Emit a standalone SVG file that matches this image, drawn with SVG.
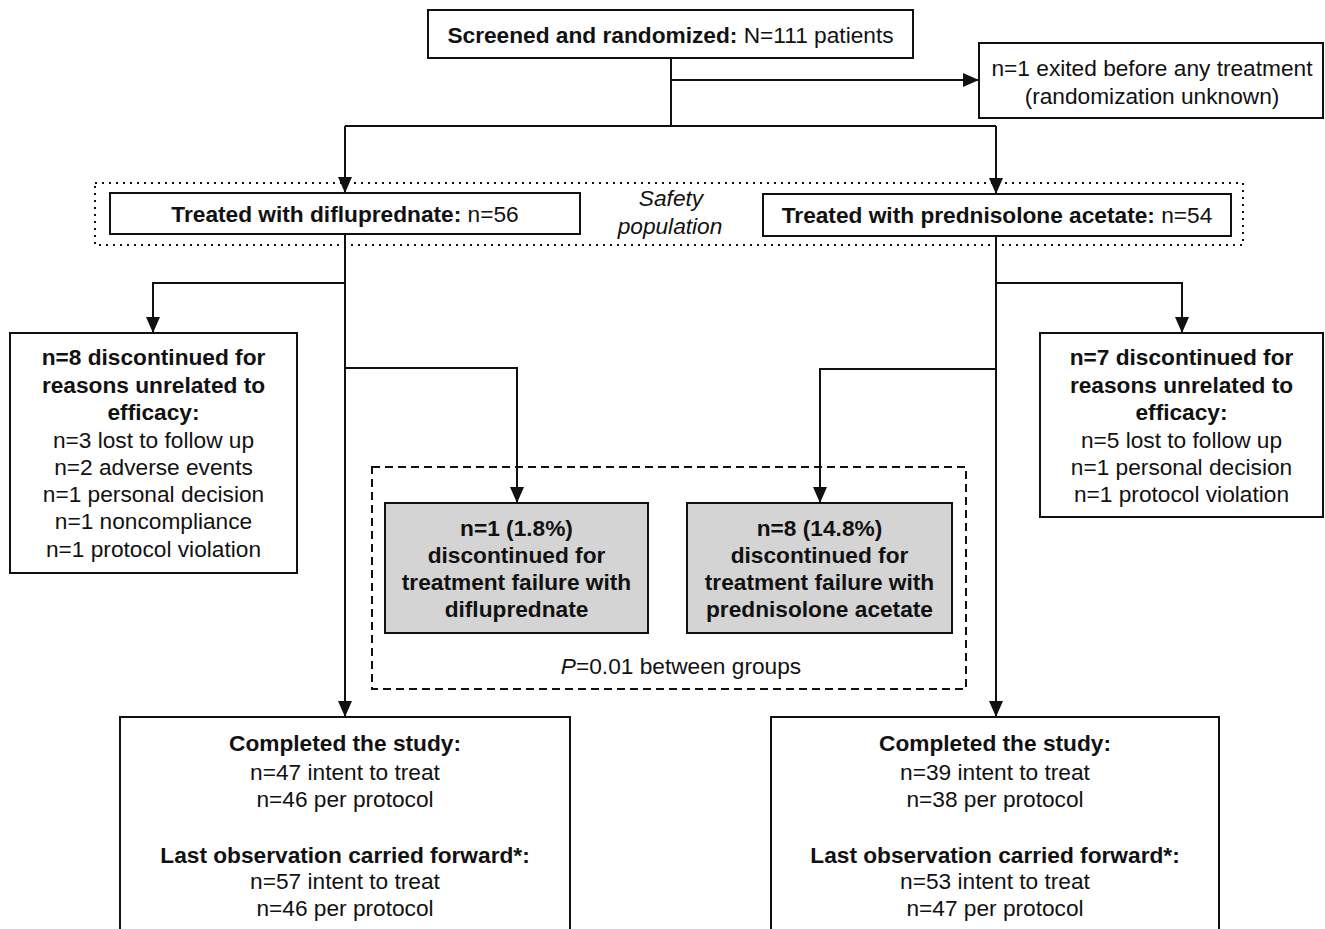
<svg xmlns="http://www.w3.org/2000/svg" width="1325" height="929" viewBox="0 0 1325 929">
<style>
text{font-family:"Liberation Sans",Arial,sans-serif;font-size:22.7px;fill:#111;text-anchor:middle}
.b{font-weight:bold}
.i{font-style:italic}
.box{fill:#fff;stroke:#111;stroke-width:2}
.gray{fill:#d4d4d4;stroke:#111;stroke-width:2}
.dot{fill:none;stroke:#111;stroke-width:2;stroke-dasharray:2 5}
.dash{fill:none;stroke:#111;stroke-width:2;stroke-dasharray:8 5}
.ln{fill:none;stroke:#111;stroke-width:2}
.ar{fill:none;stroke:#111;stroke-width:2;marker-end:url(#ah)}
</style>
<defs>
<marker id="ah" markerUnits="userSpaceOnUse" markerWidth="16" markerHeight="14" viewBox="0 0 16 14" refX="16" refY="7" orient="auto">
<path d="M0,0 L16,7 L0,14 z" fill="#111"/>
</marker>
</defs>
<rect width="1325" height="929" fill="#fff"/>

<g id="safety-population">
<rect class="dot" x="95" y="183" width="1148" height="62"/>
<text class="i" x="671" y="206">Safety</text>
<text class="i" x="670" y="234">population</text>
</g>

<g id="failure-group">
<rect class="dash" x="372" y="467" width="594" height="222"/>
<text x="681" y="674"><tspan class="i">P</tspan>=0.01 between groups</text>
</g>

<g id="connectors">
<path class="ln" d="M671,58 V126"/>
<path class="ar" d="M671,80 H979"/>
<path class="ln" d="M345,126 H996"/>
<path class="ar" d="M345,126 V193"/>
<path class="ar" d="M996,126 V194"/>
<path class="ar" d="M345,234 V717"/>
<path class="ar" d="M345,283 H153 V333"/>
<path class="ar" d="M345,368 H517 V503"/>
<path class="ar" d="M996,236 V717"/>
<path class="ar" d="M996,283 H1182 V333"/>
<path class="ar" d="M996,369 H820 V503"/>
</g>

<g id="screened">
<rect class="box" x="428" y="10" width="485" height="48"/>
<text x="670.5" y="43"><tspan class="b">Screened and randomized:</tspan> N=111 patients</text>
</g>

<g id="exited">
<rect class="box" x="979" y="43" width="344" height="75"/>
<text x="1152" y="76">n=1 exited before any treatment</text>
<text x="1152" y="104">(randomization unknown)</text>
</g>

<g id="treated-difluprednate">
<rect class="box" x="110" y="193" width="470" height="41"/>
<text x="345" y="222"><tspan class="b">Treated with difluprednate:</tspan> n=56</text>
</g>

<g id="treated-prednisolone">
<rect class="box" x="763" y="194" width="468" height="42"/>
<text x="997" y="223"><tspan class="b">Treated with prednisolone acetate:</tspan> n=54</text>
</g>

<g id="disc-left">
<rect class="box" x="10" y="333" width="287" height="240"/>
<text class="b" x="153.5" y="365">n=8 discontinued for</text>
<text class="b" x="153.5" y="393">reasons unrelated to</text>
<text class="b" x="153.5" y="420">efficacy:</text>
<text x="153.5" y="448">n=3 lost to follow up</text>
<text x="153.5" y="475">n=2 adverse events</text>
<text x="153.5" y="502">n=1 personal decision</text>
<text x="153.5" y="529">n=1 noncompliance</text>
<text x="153.5" y="557">n=1 protocol violation</text>
</g>

<g id="disc-right">
<rect class="box" x="1040" y="333" width="283" height="184"/>
<text class="b" x="1181.5" y="365">n=7 discontinued for</text>
<text class="b" x="1181.5" y="393">reasons unrelated to</text>
<text class="b" x="1181.5" y="420">efficacy:</text>
<text x="1181.5" y="448">n=5 lost to follow up</text>
<text x="1181.5" y="475">n=1 personal decision</text>
<text x="1181.5" y="502">n=1 protocol violation</text>
</g>

<g id="fail-left">
<rect class="gray" x="385" y="503" width="263" height="130"/>
<text class="b" x="516.5" y="536">n=1 (1.8%)</text>
<text class="b" x="516.5" y="563">discontinued for</text>
<text class="b" x="516.5" y="590">treatment failure with</text>
<text class="b" x="516.5" y="617">difluprednate</text>
</g>

<g id="fail-right">
<rect class="gray" x="687" y="503" width="265" height="130"/>
<text class="b" x="819.5" y="536">n=8 (14.8%)</text>
<text class="b" x="819.5" y="563">discontinued for</text>
<text class="b" x="819.5" y="590">treatment failure with</text>
<text class="b" x="819.5" y="617">prednisolone acetate</text>
</g>

<g id="completed-left">
<rect class="box" x="120" y="717" width="450" height="230"/>
<text class="b" x="345" y="751">Completed the study:</text>
<text x="345" y="780">n=47 intent to treat</text>
<text x="345" y="807">n=46 per protocol</text>
<text class="b" x="345" y="863">Last observation carried forward*:</text>
<text x="345" y="889">n=57 intent to treat</text>
<text x="345" y="916">n=46 per protocol</text>
</g>

<g id="completed-right">
<rect class="box" x="771" y="717" width="448" height="230"/>
<text class="b" x="995" y="751">Completed the study:</text>
<text x="995" y="780">n=39 intent to treat</text>
<text x="995" y="807">n=38 per protocol</text>
<text class="b" x="995" y="863">Last observation carried forward*:</text>
<text x="995" y="889">n=53 intent to treat</text>
<text x="995" y="916">n=47 per protocol</text>
</g>
</svg>
